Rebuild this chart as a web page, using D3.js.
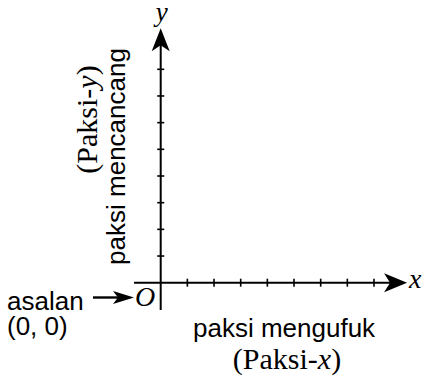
<!DOCTYPE html>
<html>
<head>
<meta charset="utf-8">
<script src="https://cdn.jsdelivr.net/npm/d3@7"></script>
<style>
  html, body { margin: 0; padding: 0; background: #fff; }
  svg { display: block; }
</style>
</head>
<body>
<svg id="chart" width="424" height="376"></svg>
<script>
// ---- data ----
const xTicks = [1, 2, 3, 4, 5, 6, 7, 8];
const yTicks = [1, 2, 3, 4, 5, 6, 7, 8];
const xAxisLabel = "paksi mengufuk";
const xAxisLabel2 = "(Paksi-";
const yAxisLabel = "paksi mencancang";
const yAxisLabel2 = "(Paksi-";
const originLabel = "asalan";
const originCoord = "(0, 0)";

// ---- layout ----
const svg = d3.select("#chart");
const x = d3.scaleLinear().domain([0, 8]).range([160.7, 374]);
const y = d3.scaleLinear().domain([0, 8]).range([282.7, 69.3]);

const serif = "'Liberation Serif', 'Times New Roman', serif";
const sans = "'Liberation Sans', Arial, sans-serif";

// axes lines
svg.append("line")
  .attr("x1", x(-1)).attr("x2", x(8.9))
  .attr("y1", y(0)).attr("y2", y(0))
  .attr("stroke", "#000").attr("stroke-width", 2);
svg.append("line")
  .attr("x1", x(0)).attr("x2", x(0))
  .attr("y1", y(-1.02)).attr("y2", y(9.1))
  .attr("stroke", "#000").attr("stroke-width", 2);

// ticks
svg.selectAll(".xt").data(xTicks).join("line")
  .attr("class", "xt")
  .attr("x1", d => x(d)).attr("x2", d => x(d))
  .attr("y1", y(0) - 4).attr("y2", y(0) + 4)
  .attr("stroke", "#000").attr("stroke-width", 1.6);
svg.selectAll(".yt").data(yTicks).join("line")
  .attr("class", "yt")
  .attr("x1", x(0) - 3.5).attr("x2", x(0) + 3.5)
  .attr("y1", d => y(d)).attr("y2", d => y(d))
  .attr("stroke", "#000").attr("stroke-width", 1.6);

// arrowheads (barbed)
function arrowHead(tipX, tipY, angleDeg, len, half, notch) {
  const a = angleDeg * Math.PI / 180;
  const ux = Math.cos(a), uy = Math.sin(a);
  const px = -uy, py = ux;
  const bx = tipX - ux * len, by = tipY - uy * len;
  const nx = tipX - ux * (len - notch), ny = tipY - uy * (len - notch);
  const p = d3.path();
  p.moveTo(tipX, tipY);
  p.lineTo(bx + px * half, by + py * half);
  p.lineTo(nx, ny);
  p.lineTo(bx - px * half, by - py * half);
  p.closePath();
  svg.append("path").attr("d", p.toString()).attr("fill", "#000");
}
const xTip = x(9.24);
const yTip = y(9.54);
arrowHead(xTip, y(0), 0, 23, 9.5, 6);
arrowHead(x(0), yTip, -90, 23, 9, 6);

// origin arrow
svg.append("line")
  .attr("x1", 93).attr("x2", 120).attr("y1", 297.5).attr("y2", 297.5)
  .attr("stroke", "#000").attr("stroke-width", 2.4);
arrowHead(134, 297.5, 0, 21, 6.5, 5);

// ---- texts ----
svg.append("text").attr("x", x(0) + 1).attr("y", 21)
  .attr("text-anchor", "middle")
  .attr("font-family", serif).attr("font-style", "italic").attr("font-size", 27)
  .text("y");
svg.append("text").attr("x", 409).attr("y", 288)
  .attr("font-family", serif).attr("font-style", "italic").attr("font-size", 28)
  .text("x");
svg.append("text").attr("x", 135).attr("y", 306)
  .attr("font-family", serif).attr("font-style", "italic").attr("font-size", 28)
  .text("O");

svg.append("text").attr("x", 7).attr("y", 310)
  .attr("font-family", sans).attr("font-size", 26)
  .text(originLabel);
svg.append("text").attr("x", 7).attr("y", 335)
  .attr("font-family", sans).attr("font-size", 26)
  .text(originCoord);

svg.append("text")
  .attr("transform", "translate(125,156.5) rotate(-90)")
  .attr("text-anchor", "middle")
  .attr("font-family", sans).attr("font-size", 26)
  .text(yAxisLabel);

const py = svg.append("text")
  .attr("transform", "translate(97,119.5) rotate(-90)")
  .attr("text-anchor", "middle")
  .attr("font-family", serif).attr("font-size", 30);
py.append("tspan").text(yAxisLabel2);
py.append("tspan").attr("font-style", "italic").text("y");
py.append("tspan").text(")");

svg.append("text").attr("x", 193).attr("y", 337)
  .attr("font-family", sans).attr("font-size", 26)
  .text(xAxisLabel);

const px2 = svg.append("text").attr("x", 287).attr("y", 369)
  .attr("text-anchor", "middle")
  .attr("font-family", serif).attr("font-size", 30);
px2.append("tspan").text(xAxisLabel2);
px2.append("tspan").attr("font-style", "italic").text("x");
px2.append("tspan").text(")");
</script>
</body>
</html>
